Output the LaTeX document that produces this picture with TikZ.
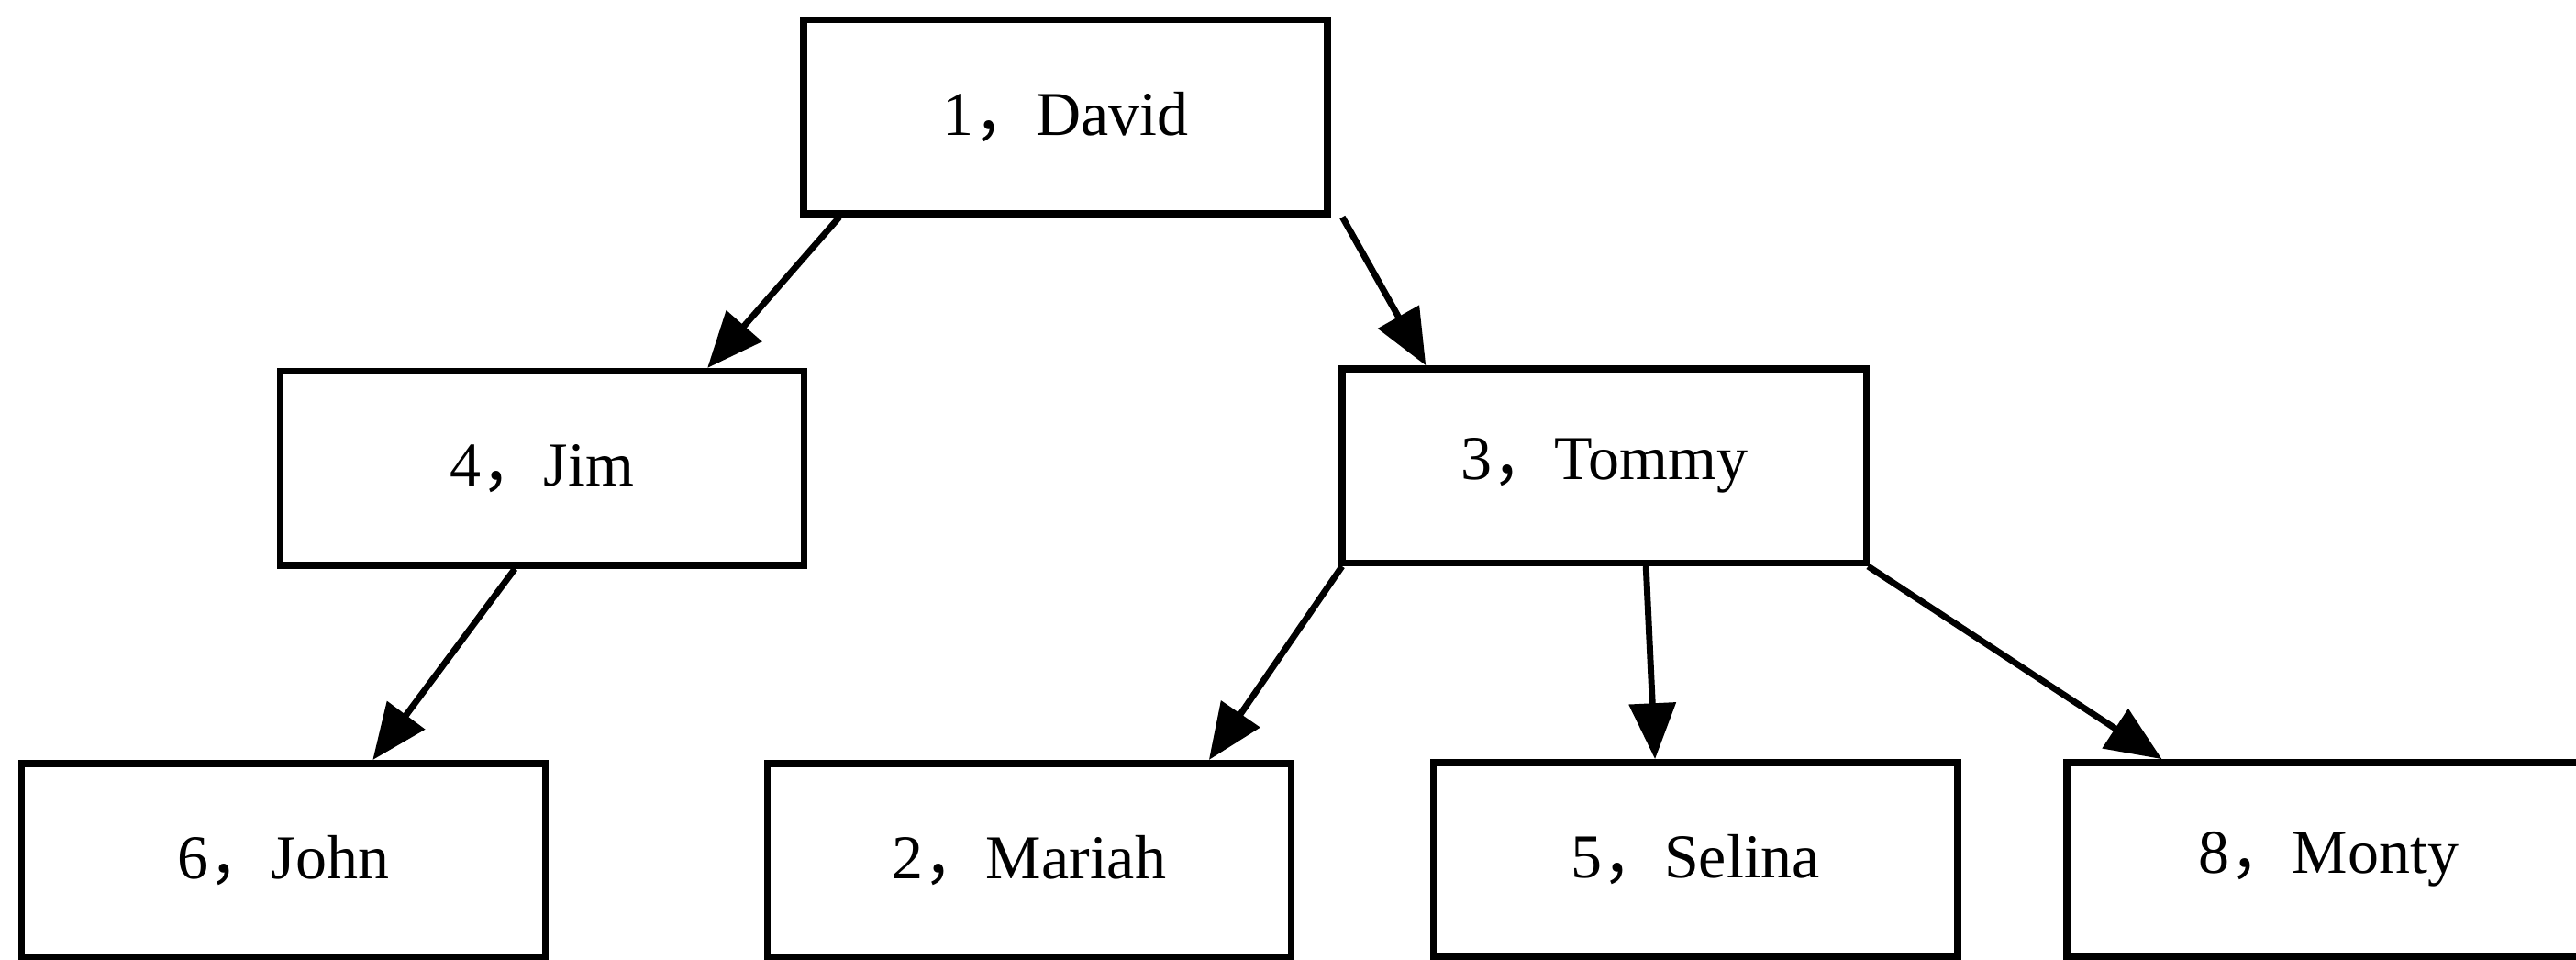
\documentclass[tikz,border=0pt]{standalone}
\usepackage{fontspec}
\setmainfont{Liberation Serif}
\newfontfamily\cjk{Noto Sans CJK SC}
\usetikzlibrary{arrows.meta}
\newcommand{\cm}{{\cjk ，}}
\begin{document}
\begin{tikzpicture}[
  person/.style={draw, line width=1.2pt, minimum width=3.19cm, minimum height=1.18cm,
                 inner sep=0pt, font=\fontsize{10.8pt}{13pt}\selectfont},
  link/.style={line width=1.1pt, -{Triangle[length=0.34cm, width=0.28cm]}}
]
\useasboundingbox[fill=white] (0,0) rectangle (15.68,5.84);

% tree nodes
\node[person] (david)  at (6.485,5.13) {1\cm David};
\node[person] (jim)    at (3.30,2.99)  {4\cm Jim};
\node[person] (tommy)  at (9.765,3.005) {3\cm Tommy};
\node[person] (john)   at (1.725,0.605) {6\cm John};
\node[person] (mariah) at (6.265,0.605) {2\cm Mariah};
\node[person] (selina) at (10.32,0.61) {5\cm Selina};
\node[person] (monty)  at (14.175,0.61) {8\cm Monty};

% parent-to-child arrows
\draw[link] ([xshift=0.24cm]david.south west) -- ([xshift=-0.61cm]jim.north east);
\draw[link] ([xshift=0.07cm]david.south east) -- ([xshift=0.53cm]tommy.north west);
\draw[link] ([xshift=1.45cm]jim.south west) -- ([xshift=2.16cm]john.north west);
\draw[link] ([xshift=0.02cm]tommy.south west) -- ([xshift=2.71cm]mariah.north west);
\draw[link] ([xshift=1.87cm]tommy.south west) -- ([xshift=1.37cm]selina.north west);
\draw[link] ([xshift=-0.01cm]tommy.south east) -- ([xshift=0.60cm]monty.north west);
\end{tikzpicture}
\end{document}
